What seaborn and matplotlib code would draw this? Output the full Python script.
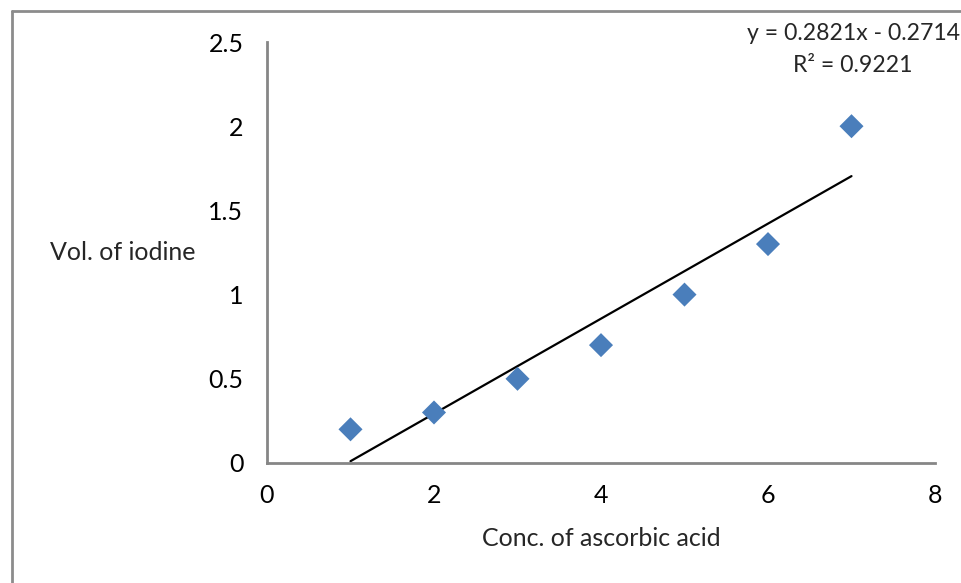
import numpy as np
import pandas as pd
import matplotlib
matplotlib.use("Agg")
import matplotlib.pyplot as plt
import seaborn as sns

conc = [1, 2, 3, 4, 5, 6, 7]
vol = [0.2, 0.3, 0.5, 0.7, 1.0, 1.3, 2.0]
x_ticks = [0, 2, 4, 6, 8]
y_ticks = [0, 0.5, 1, 1.5, 2, 2.5]
y_tick_labels = ["0", "0.5", "1", "1.5", "2", "2.5"]

df = pd.DataFrame({"conc": conc, "vol": vol})

sns.set_theme(style="white")
plt.rcParams["font.family"] = ["Lato", "DejaVu Sans"]

W, H = 962, 583
fig = plt.figure(figsize=(W / 100, H / 100), dpi=100)
ax = fig.add_axes([267 / W, 1 - 463 / H, (935 - 267) / W, (463 - 42) / H])

sns.regplot(data=df, x="conc", y="vol", ax=ax, ci=None, scatter=False,
            line_kws=dict(color="black", lw=1.6), truncate=True)
sns.scatterplot(data=df, x="conc", y="vol", ax=ax, marker="D", s=150,
                color="#4a7ebb", edgecolor="none", zorder=3)

ax.set_xlim(0, 8)
ax.set_ylim(0, 2.5)
ax.set_xticks(x_ticks)
ax.set_xticklabels([str(t) for t in x_ticks])
ax.set_yticks(y_ticks)
ax.set_yticklabels(y_tick_labels)
ax.tick_params(axis="both", labelsize=18, length=6, width=2, color="#868686",
               direction="out", colors="#868686", labelcolor="black")
ax.tick_params(axis="y", pad=11)
ax.tick_params(axis="x", pad=9)
for s in ["top", "right"]:
    ax.spines[s].set_visible(False)
for s in ["left", "bottom"]:
    ax.spines[s].set_color("#868686")
    ax.spines[s].set_linewidth(2)

ax.set_xlabel("")
ax.set_ylabel("")
fig.text(601 / W, 1 - 538 / H, "Conc. of ascorbic acid", fontsize=18, ha="center", va="center")
fig.text(50 / W, 1 - 253 / H, "Vol. of iodine", fontsize=18, ha="left", va="center")

slope, intercept = np.polyfit(conc, vol, 1)
pred = np.polyval([slope, intercept], conc)
r2 = 1 - np.sum((np.array(vol) - pred) ** 2) / np.sum((np.array(vol) - np.mean(vol)) ** 2)
sign = "-" if intercept < 0 else "+"
fig.text(960 / W, 1 - 34 / H, f"y = {slope:.4f}x {sign} {abs(intercept):.4f}",
         fontsize=16.6, ha="right", va="center")
fig.text(853 / W, 1 - 66 / H, f"R² = {r2:.4f}", fontsize=16.6, ha="center", va="center")

# outer chart border (partially cropped)
fig.add_artist(plt.Line2D([12 / W, 12 / W], [0, 1 - 11 / H], transform=fig.transFigure,
                          color="#8c8c8c", lw=2))
fig.add_artist(plt.Line2D([12 / W, 1], [1 - 11 / H, 1 - 11 / H], transform=fig.transFigure,
                          color="#8c8c8c", lw=2))

fig.savefig("out.png", dpi=100)
